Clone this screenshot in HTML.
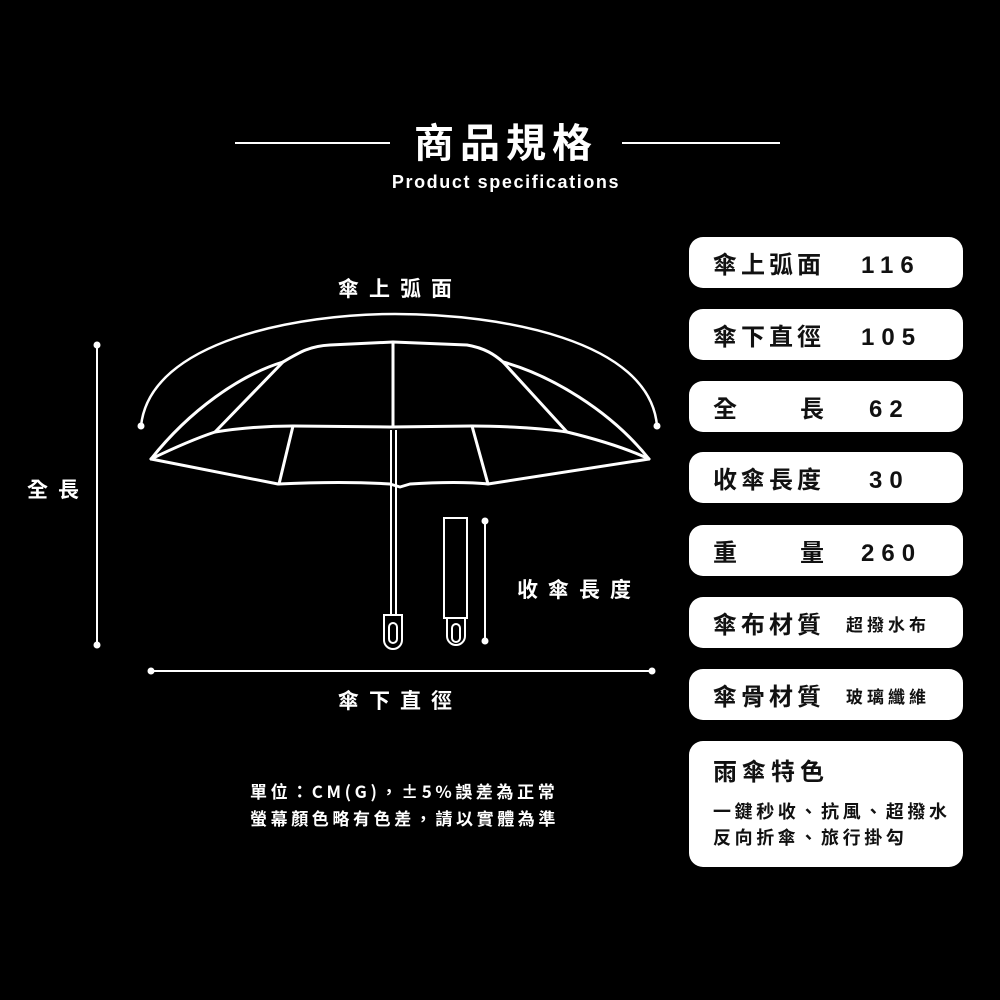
<!DOCTYPE html>
<html><head><meta charset="utf-8"><style>
html,body{margin:0;padding:0;background:#000;}
svg{display:block;}
text{font-family:"Liberation Sans","Noto Sans CJK TC",sans-serif;font-weight:bold;}
.c{font-family:"Noto Sans CJK TC","Liberation Sans",sans-serif;font-weight:bold;}
</style></head><body>
<svg width="1000" height="1000" viewBox="0 0 1000 1000" xmlns="http://www.w3.org/2000/svg">
<rect width="1000" height="1000" fill="#000"/>
<line x1="235" y1="143" x2="390" y2="143" stroke="#fff" stroke-width="2"/>
<line x1="622" y1="143" x2="780" y2="143" stroke="#fff" stroke-width="2"/>
<text class="c" x="506" y="157" fill="#fff" font-size="40" text-anchor="middle" letter-spacing="6">商品規格</text>
<text x="506" y="188" fill="#fff" font-size="18" text-anchor="middle" letter-spacing="1.6">Product  specifications</text>

<g fill="none" stroke="#fff" stroke-width="3" stroke-linejoin="round" stroke-linecap="round">
<path d="M141,426 C150,340 300,314 395,314 C500,314 650,340 657,426" stroke-width="2.5"/>
<path d="M151,459 C190,410 240,375 283,362 C300,352 310,346 330,345 L393,342 L467,345 C485,348 495,355 503,362 C550,375 610,410 649,459"/>
<path d="M151,459 C180,445 200,437 215,432 C240,428 270,426 293,426 L390,427 L472,426 C500,426 540,428 567,432 C600,440 630,450 649,459"/>
<path d="M215,432 L283,362"/>
<path d="M567,432 L503,362"/>
<path d="M393,342 L393,427"/>
<path d="M151,459 L278,484 C320,482 360,482 390,484 L400,487 L410,484 C440,482 470,482 488,484 L649,459"/>
<path d="M293,426 L279,484"/>
<path d="M472,426 L488,484"/>
</g>
<g fill="none" stroke="#fff" stroke-width="2">
<path d="M391,430 L391,615 M396,430 L396,615"/>
<path d="M384,615 L402,615 L402,640 A9,9 0 0 1 384,640 Z"/>
<rect x="389" y="623" width="8" height="20" rx="4"/>
<rect x="444" y="518" width="23" height="100"/>
<path d="M447,618 L465,618 L465,636 A9,9 0 0 1 447,636 Z"/>
<rect x="452" y="624" width="8" height="18" rx="4"/>
<line x1="485" y1="521" x2="485" y2="641"/>
<line x1="97" y1="345" x2="97" y2="645"/>
<line x1="151" y1="671" x2="652" y2="671"/>
</g>
<g fill="#fff">
<circle cx="141" cy="426" r="3.5"/><circle cx="657" cy="426" r="3.5"/>
<circle cx="485" cy="521" r="3.5"/><circle cx="485" cy="641" r="3.5"/>
<circle cx="97" cy="345" r="3.5"/><circle cx="97" cy="645" r="3.5"/>
<circle cx="151" cy="671" r="3.5"/><circle cx="652" cy="671" r="3.5"/>
</g>
<g fill="#fff" font-size="21">
<text class="c" x="338" y="296" letter-spacing="10">傘上弧面</text>
<text class="c" x="517" y="597" letter-spacing="10">收傘長度</text>
<text class="c" x="338" y="708" letter-spacing="10">傘下直徑</text>
<text class="c" x="27" y="497" letter-spacing="10">全長</text>
</g>
<text class="c" x="250" y="798" fill="#fff" font-size="17" letter-spacing="3.6">單位：CM(G)，±5%誤差為正常</text>
<text class="c" x="250" y="825" fill="#fff" font-size="17" letter-spacing="3.6">螢幕顏色略有色差，請以實體為準</text>

<g fill="#fff">
<rect x="689" y="237" width="274" height="51" rx="14"/>
<rect x="689" y="309" width="274" height="51" rx="14"/>
<rect x="689" y="381" width="274" height="51" rx="14"/>
<rect x="689" y="452" width="274" height="51" rx="14"/>
<rect x="689" y="525" width="274" height="51" rx="14"/>
<rect x="689" y="597" width="274" height="51" rx="14"/>
<rect x="689" y="669" width="274" height="51" rx="14"/>
<rect x="689" y="741" width="274" height="126" rx="14"/>
</g>
<g fill="#111" font-size="24">
<text class="c" x="713" y="273" letter-spacing="4">傘上弧面</text>
<text x="861" y="273" letter-spacing="7" font-size="24">116</text>
<text class="c" x="713" y="345" letter-spacing="4">傘下直徑</text>
<text x="861" y="345" letter-spacing="7" font-size="24">105</text>
<text class="c" x="713" y="417">全</text>
<text class="c" x="800" y="417">長</text>
<text x="869" y="417" letter-spacing="7" font-size="24">62</text>
<text class="c" x="713" y="488" letter-spacing="4">收傘長度</text>
<text x="869" y="488" letter-spacing="7" font-size="24">30</text>
<text class="c" x="713" y="561">重</text>
<text class="c" x="800" y="561">量</text>
<text x="861" y="561" letter-spacing="7" font-size="24">260</text>
<text class="c" x="713" y="633" letter-spacing="4">傘布材質</text>
<text class="c" x="846" y="631" font-size="17" letter-spacing="4">超撥水布</text>
<text class="c" x="713" y="705" letter-spacing="4">傘骨材質</text>
<text class="c" x="846" y="703" font-size="17" letter-spacing="4">玻璃纖維</text>
<text class="c" x="713" y="780" letter-spacing="5">雨傘特色</text>
<text class="c" x="713" y="818" font-size="18" letter-spacing="3.6">一鍵秒收、抗風、超撥水</text>
<text class="c" x="713" y="844" font-size="18" letter-spacing="3.6">反向折傘、旅行掛勾</text>
</g>
</svg>
</body></html>
